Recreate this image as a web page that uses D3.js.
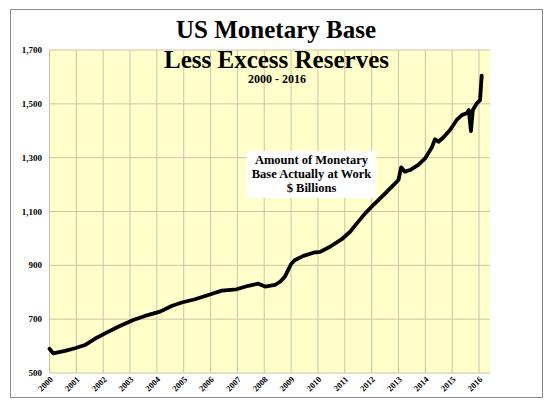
<!DOCTYPE html>
<html>
<head>
<meta charset="utf-8">
<script src="https://cdn.jsdelivr.net/npm/d3@7"></script>
<style>
  body { margin: 0; background: #fff; }
  text { font-family: "Liberation Serif", "Times New Roman", serif; font-weight: bold; }
</style>
</head>
<body>
<script>
const width = 548;
const height = 407;
const margin = { left: 49.5, right: 58, top: 50, bottom: 34 };

// values (decimal year, $ billions)
const years = [2000.0, 2000.14, 2000.58, 2000.95, 2001.32, 2001.76, 2002.07, 2002.56, 2003.12, 2003.56,
    2004.12, 2004.55, 2004.93, 2005.42, 2005.92, 2006.42, 2006.97, 2007.41, 2007.78, 2008.03,
    2008.4, 2008.6, 2008.77, 2008.88, 2009.0, 2009.15, 2009.46, 2009.83, 2010.08, 2010.45,
    2010.89, 2011.2, 2011.45, 2011.76, 2012.06, 2012.44, 2012.81, 2013.0, 2013.1, 2013.24,
    2013.43, 2013.74, 2013.99, 2014.24, 2014.36, 2014.49, 2014.67, 2014.92, 2015.17, 2015.36,
    2015.54, 2015.62, 2015.7, 2015.77, 2015.92, 2016.04, 2016.1];
const base = [590, 573, 582, 592, 604, 631, 647, 672, 697, 712,
    728, 749, 762, 774, 790, 806, 811, 824, 832, 821,
    827, 840, 858, 880, 905, 920, 935, 947, 950, 969,
    997, 1025, 1056, 1093, 1124, 1161, 1198, 1217, 1264, 1248,
    1254, 1273, 1297, 1338, 1368, 1359, 1375, 1403, 1440, 1458,
    1465, 1477, 1399, 1477, 1502, 1514, 1605];
const yearTicks = d3.range(2000, 2017);
const valueTicks = [500, 700, 900, 1100, 1300, 1500, 1700];
const noteLines = ["Amount of Monetary", "Base Actually at Work", "$ Billions"];

const svg = d3.select("body")
    .append("svg")
    .attr("width", width)
    .attr("height", height);

// outer frame
svg.append("rect")
    .attr("x", 10.5).attr("y", 9.5)
    .attr("width", 532).attr("height", 388)
    .attr("fill", "none")
    .attr("stroke", "#8a8a8a")
    .attr("stroke-width", 1);

const x = d3.scaleLinear()
    .domain([2000, 2016.41])
    .range([margin.left, width - margin.right]);
const y = d3.scaleLinear()
    .domain([500, 1700])
    .range([height - margin.bottom, margin.top]);

// plot background
svg.append("rect")
    .attr("x", x(2000)).attr("y", y(1700))
    .attr("width", x(2016.41) - x(2000))
    .attr("height", y(500) - y(1700))
    .attr("fill", "#ffffcc");

// grid
svg.selectAll(".vgrid").data(yearTicks)
    .join("line")
    .attr("class", "vgrid")
    .attr("x1", d => x(d)).attr("x2", d => x(d))
    .attr("y1", y(1700)).attr("y2", y(500))
    .attr("stroke", "#c9c6a4")
    .attr("stroke-width", 1);

svg.selectAll(".hgrid").data(valueTicks)
    .join("line")
    .attr("class", "hgrid")
    .attr("x1", x(2000)).attr("x2", x(2016.41))
    .attr("y1", d => y(d)).attr("y2", d => y(d))
    .attr("stroke", "#c9c6a4")
    .attr("stroke-width", 1);

// y labels
svg.selectAll(".ylab").data(valueTicks)
    .join("text")
    .attr("class", "ylab")
    .attr("x", 42)
    .attr("y", d => y(d))
    .attr("dy", "0.35em")
    .attr("text-anchor", "end")
    .attr("font-size", 9)
    .text(d => d3.format(",")(d));

// x labels, rotated
svg.selectAll(".xlab").data(yearTicks)
    .join("text")
    .attr("class", "xlab")
    .attr("text-anchor", "end")
    .attr("font-size", 8.5)
    .attr("transform", d => "translate(" + (x(d) + 4) + "," + (y(500) + 7) + ") rotate(-45)")
    .text(d => d);

// note box
const note = svg.append("g").attr("transform", "translate(311.5,0)");
note.append("rect")
    .attr("x", -65).attr("y", 151)
    .attr("width", 130).attr("height", 47)
    .attr("fill", "#fff");
note.selectAll("text").data(noteLines)
    .join("text")
    .attr("x", 0)
    .attr("y", (d, i) => 164 + i * 13.8)
    .attr("text-anchor", "middle")
    .attr("font-size", 12.5)
    .text(d => d);

// the series
const line = d3.line()
    .x((d, i) => x(years[i]))
    .y(d => y(d));

svg.append("path")
    .datum(base)
    .attr("d", line)
    .attr("fill", "none")
    .attr("stroke", "#000")
    .attr("stroke-width", 3.8)
    .attr("stroke-linejoin", "round")
    .attr("stroke-linecap", "round");

// titles
svg.append("text")
    .attr("x", 276).attr("y", 37.5)
    .attr("text-anchor", "middle")
    .attr("font-size", 25)
    .text("US Monetary Base");
svg.append("text")
    .attr("x", 276.5).attr("y", 68)
    .attr("text-anchor", "middle")
    .attr("font-size", 25)
    .text("Less Excess Reserves");
svg.append("text")
    .attr("x", 277).attr("y", 83.3)
    .attr("text-anchor", "middle")
    .attr("font-size", 12)
    .text("2000 - 2016");
</script>
</body>
</html>
